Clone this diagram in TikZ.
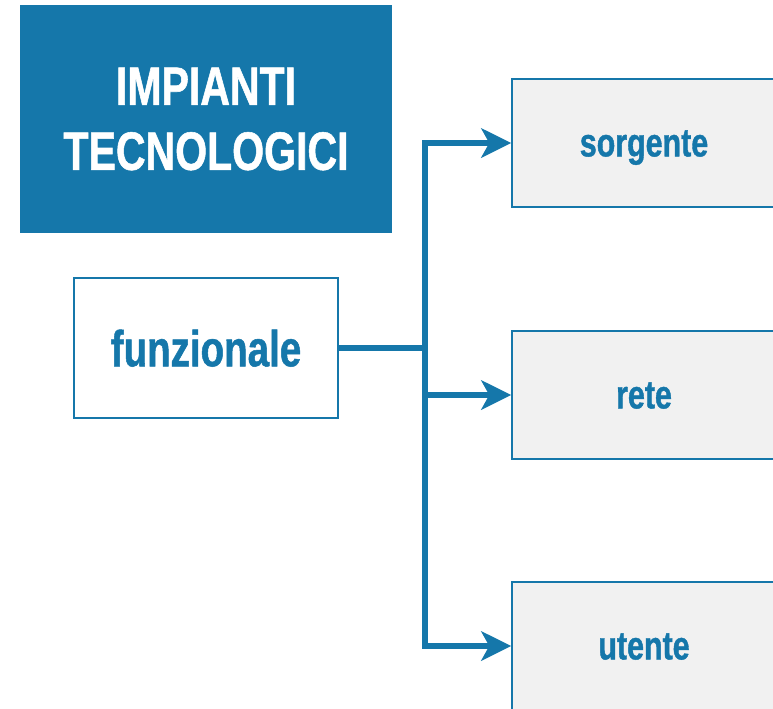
\documentclass[tikz,border=0pt]{standalone}
\usepackage{fontspec}
\setmainfont{Liberation Sans}[FakeStretch=0.76,BoldFeatures={FakeBold=1}]
\usetikzlibrary{arrows.meta}
\definecolor{impblue}{HTML}{1577AA}
\definecolor{boxgray}{HTML}{F1F1F1}

\begin{document}
\begin{tikzpicture}[x=0.75pt,y=-0.75pt]
		\useasboundingbox (0,0) rectangle (773,708);

		\begin{scope}[every node/.style={rectangle,draw=impblue,line width=1.1pt,text=impblue,
					minimum width=198pt,minimum height=96pt},
					item/.style={text height=21.6pt,text depth=1.5pt,font=\bfseries\fontsize{30}{36}\selectfont}]
			\node[fill=impblue,text=white,align=center,minimum width=277.5pt,minimum height=169.5pt,
				font=\bfseries\fontsize{40.5}{48.75}\selectfont] (Title) at (206,119) {IMPIANTI\\TECNOLOGICI};
			\node[fill=white,minimum height=105pt,text height=27.4pt,text depth=0pt,
				font=\bfseries\fontsize{38}{44}\selectfont] (Funz) at (206,348) {funzionale};
			\node[item,fill=boxgray] (Sorg) at (644,143) {sorgente};
			\node[item,fill=boxgray] (Rete) at (644,395) {rete};
			\node[item,fill=boxgray] (Uten) at (644,646) {utente};
		\end{scope}

		\coordinate (J) at (425,348);

		\begin{scope}[>={Stealth[length=22.5pt,width=22pt,inset=6pt]},
					link/.style={draw=impblue,line width=3.9pt}]
			\draw [link] (Funz) -- (J);
			\draw [link,->] (J) |- (Sorg);
			\draw [link,->] (J) |- (Rete);
			\draw [link,->] (J) |- (Uten);
		\end{scope}
	\end{tikzpicture}
\end{document}
